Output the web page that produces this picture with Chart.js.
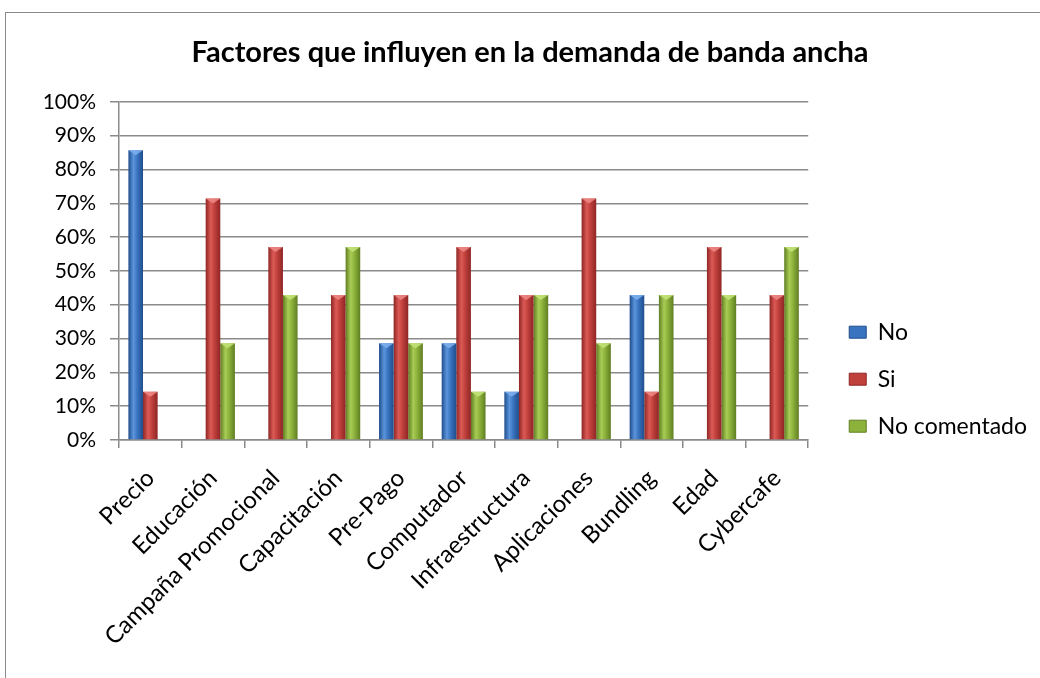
<!DOCTYPE html>
<html>
<head>
<meta charset="utf-8">
<script src="https://cdn.jsdelivr.net/npm/chart.js@4/dist/chart.umd.min.js"></script>
<style>
  html, body { margin: 0; padding: 0; background: #fff; overflow: hidden; }
  #frame {
    position: absolute; left: 5px; top: 12px;
    width: 1040px; height: 680px;
    border: 1px solid #8a8a8a; box-sizing: border-box;
  }
  #wrap { position: absolute; left: 0; top: 0; width: 1034px; height: 666px; }
</style>
</head>
<body>
<div id="frame"><div id="wrap"><canvas id="myChart"></canvas></div></div>
<script>
// values (shares of 7 respondents)
const categories = ['Precio', 'Educación', 'Campaña Promocional', 'Capacitación', 'Pre-Pago',
  'Computador', 'Infraestructura', 'Aplicaciones', 'Bundling', 'Edad', 'Cybercafe'];
const noValues = [85.7, 0, 0, 0, 28.6, 28.6, 14.3, 0, 42.9, 0, 0];
const siValues = [14.3, 71.4, 57.1, 42.9, 42.9, 57.1, 42.9, 71.4, 14.3, 57.1, 42.9];
const noComentadoValues = [0, 28.6, 42.9, 57.1, 28.6, 14.3, 42.9, 28.6, 42.9, 42.9, 57.1];
const yTicks = [0, 10, 20, 30, 40, 50, 60, 70, 80, 90, 100];

const font = 'Lato, "Open Sans", sans-serif';
const tops = ['#7fb0ee', '#ee8a86', '#c4e47a'];

// horizontal gradient so the bars look like the rounded Excel columns
function barFill(dark, mid, light) {
  return (context) => {
    const el = context.element;
    if (!el || el.x == null || !el.width) return mid;
    const left = el.x - el.width / 2;
    const g = context.chart.ctx.createLinearGradient(left, 0, left + el.width, 0);
    g.addColorStop(0, dark);
    g.addColorStop(0.35, light);
    g.addColorStop(0.6, mid);
    g.addColorStop(1, dark);
    return g;
  };
}

// small bevel on top of each column, like the Excel preset
const bevelTops = {
  id: 'bevelTops',
  afterDatasetsDraw(chart) {
    const c = chart.ctx;
    chart.data.datasets.forEach((ds, i) => {
      chart.getDatasetMeta(i).data.forEach((bar) => {
        if (bar.base - bar.y < 3) return;
        const half = bar.width / 2;
        c.save();
        c.fillStyle = tops[i];
        c.globalAlpha = 0.85;
        c.beginPath();
        c.moveTo(bar.x - half, bar.y);
        c.lineTo(bar.x + half, bar.y);
        c.lineTo(bar.x, bar.y + 5);
        c.closePath();
        c.fill();
        c.restore();
      });
    });
  },
};

// push the legend (and title) a bit to the right, as in the original
const nudgeBoxes = {
  id: 'nudgeBoxes',
  afterLayout(chart) {
    chart.legend.left += 17;
    chart.legend.right += 17;
    chart.titleBlock.left += 17;
    chart.titleBlock.right += 17;
  },
};

const ctx = document.getElementById('myChart').getContext('2d');
const chart = new Chart(ctx, {
  type: 'bar',
  data: {
    labels: categories,
    datasets: [
      {
        label: 'No',
        data: noValues,
        backgroundColor: barFill('#1f4d8c', '#3a74c0', '#5b95dc'),
        borderWidth: 0,
      },
      {
        label: 'Si',
        data: siValues,
        backgroundColor: barFill('#8e2624', '#c0403c', '#dc5a56'),
        borderWidth: 0,
      },
      {
        label: 'No comentado',
        data: noComentadoValues,
        backgroundColor: barFill('#5f7e22', '#8db23c', '#a8cc55'),
        borderWidth: 0,
      },
    ],
  },
  plugins: [bevelTops, nudgeBoxes],
  options: {
    responsive: true,
    maintainAspectRatio: false,
    animation: false,
    events: [],
    layout: { padding: { left: 0, right: 20, top: 0, bottom: 0 } },
    datasets: { bar: { barPercentage: 1, categoryPercentage: 0.7 } },
    plugins: {
      title: {
        display: true,
        text: 'Factores que influyen en la demanda de banda ancha',
        color: '#000',
        font: { family: font, size: 29, weight: 'bold' },
        padding: { top: 22, bottom: 32 },
      },
      legend: {
        position: 'right',
        title: { display: true, text: '', padding: { top: 52 } },
        labels: {
          color: '#000',
          font: { family: font, size: 23 },
          boxWidth: 17,
          boxHeight: 12,
          padding: 24,
          generateLabels: (c) => c.data.datasets.map((ds, i) => ({
            text: ds.label,
            fillStyle: ['#3a74c0', '#c0403c', '#8db23c'][i],
            strokeStyle: ['#1f4d8c', '#8e2624', '#5f7e22'][i],
            fontColor: '#000',
            lineWidth: 1,
            datasetIndex: i,
          })),
        },
      },
      tooltip: { enabled: false },
    },
    scales: {
      x: {
        afterFit: (s) => { s.height = 239; },
        grid: { display: true, drawOnChartArea: false, color: '#8a8a8a', lineWidth: 1.5, tickLength: 8 },
        border: { color: '#8a8a8a', width: 1.5 },
        ticks: {
          color: '#000',
          font: { family: font, size: 24 },
          minRotation: 45,
          maxRotation: 45,
          autoSkip: false,
          padding: 16,
        },
      },
      y: {
        min: 0,
        max: 100,
        afterFit: (s) => { s.width = 113; },
        afterBuildTicks: (axis) => { axis.ticks = yTicks.map((v) => ({ value: v })); },
        grid: { color: '#8a8a8a', lineWidth: 1.5, tickLength: 9 },
        border: { color: '#8a8a8a', width: 1.5 },
        ticks: {
          color: '#000',
          font: { family: font, size: 21 },
          padding: 14,
          callback: (v) => v + '%',
        },
      },
    },
  },
});
// second pass so the gradients know where each bar sits
chart.update();
</script>
</body>
</html>
